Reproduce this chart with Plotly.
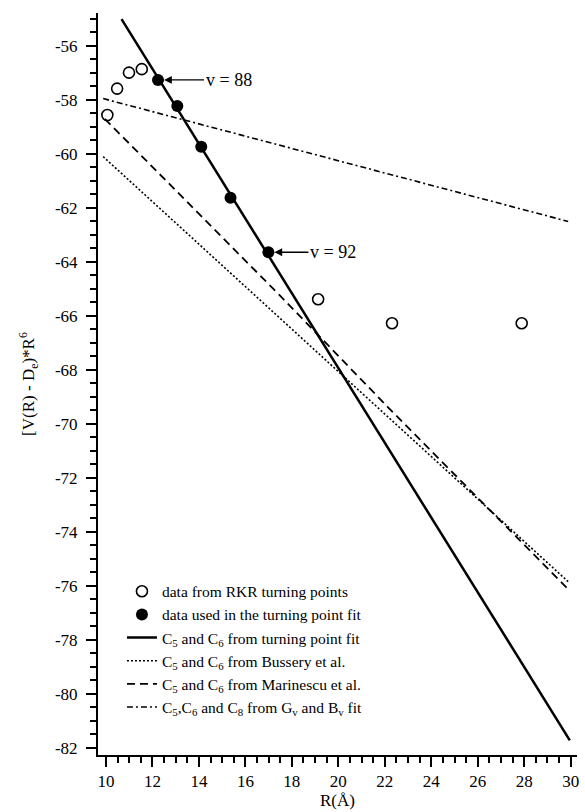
import plotly.graph_objects as go

# ---- data ----
rkr_R = [10.06, 10.48, 10.99, 11.54, 19.13, 22.31, 27.89]
rkr_V = [-58.56, -57.58, -56.99, -56.86, -65.38, -66.27, -66.27]

fit_R = [12.24, 13.07, 14.10, 15.36, 16.99]
fit_V = [-57.26, -58.22, -59.73, -61.62, -63.64]

tp_R = [10.67, 29.96]
tp_V = [-55.01, -81.72]

bus_R = [9.88, 17.46, 21.74, 29.89]
bus_V = [-60.10, -66.07, -69.41, -75.84]

mar_R = [9.95, 17.46, 22.17, 29.89]
mar_V = [-58.70, -65.22, -69.41, -76.12]

gb_R = [9.88, 22.17, 29.89]
gb_V = [-57.95, -60.74, -62.50]

x_ticks = list(range(10, 31, 2))
y_ticks = list(range(-82, -55, 2))
x_ticktext = [str(v) for v in x_ticks]
y_ticktext = ["-" + str(abs(v)) for v in y_ticks]

FONT = "Liberation Serif"

fig = go.Figure()

fig.add_trace(go.Scatter(x=tp_R, y=tp_V, mode="lines",
                         line=dict(color="black", width=2.5),
                         name="C<sub>5</sub> and C<sub>6</sub> from turning point fit",
                         legendrank=3))
fig.add_trace(go.Scatter(x=bus_R, y=bus_V, mode="lines",
                         line=dict(color="black", width=1.6, dash="2px,2px"),
                         name="C<sub>5</sub> and C<sub>6</sub> from Bussery et al.",
                         legendrank=4))
fig.add_trace(go.Scatter(x=mar_R, y=mar_V, mode="lines",
                         line=dict(color="black", width=1.8, dash="8px,5px"),
                         name="C<sub>5</sub> and C<sub>6</sub> from Marinescu et al.",
                         legendrank=5))
fig.add_trace(go.Scatter(x=gb_R, y=gb_V, mode="lines",
                         line=dict(color="black", width=1.6, dash="6px,3px,2px,3px"),
                         name="C<sub>5</sub>,C<sub>6</sub> and C<sub>8</sub> from G<sub>v</sub> and B<sub>v</sub> fit",
                         legendrank=6))
fig.add_trace(go.Scatter(x=rkr_R, y=rkr_V, mode="markers",
                         marker=dict(symbol="circle-open", size=11, color="black",
                                     line=dict(width=1.6, color="black")),
                         name="data from RKR turning points", legendrank=1))
fig.add_trace(go.Scatter(x=fit_R, y=fit_V, mode="markers",
                         marker=dict(symbol="circle", size=12, color="black"),
                         name="data used in the turning point fit", legendrank=2))

fig.add_annotation(x=fit_R[0], y=fit_V[0], ax=46, ay=0, text="v = 88",
                   xanchor="left", showarrow=True, arrowhead=2, arrowsize=1.2,
                   arrowwidth=1.3, arrowcolor="black", standoff=6,
                   font=dict(family=FONT, size=18, color="black"))
fig.add_annotation(x=fit_R[-1], y=fit_V[-1], ax=40, ay=0, text="v = 92",
                   xanchor="left", showarrow=True, arrowhead=2, arrowsize=1.2,
                   arrowwidth=1.3, arrowcolor="black", standoff=6,
                   font=dict(family=FONT, size=18, color="black"))

axis_common = dict(showline=True, linecolor="black", linewidth=2, showgrid=False,
                   zeroline=False, ticks="outside", tickcolor="black", tickwidth=2,
                   ticklen=10, tickmode="array",
                   tickfont=dict(family=FONT, size=17, color="black"))

fig.update_xaxes(range=[9.657, 30.27], tickvals=x_ticks, ticktext=x_ticktext,
                 minor=dict(dtick=0.5, tick0=10, ticks="outside", ticklen=6,
                            tickwidth=1.5, tickcolor="black", showgrid=False),
                 title=dict(text="R(Å)", font=dict(family=FONT, size=17, color="black"),
                            standoff=2),
                 **axis_common)
fig.update_yaxes(range=[-82.26, -54.78], tickvals=y_ticks, ticktext=y_ticktext,
                 minor=dict(dtick=0.5, tick0=-82, ticks="outside", ticklen=6,
                            tickwidth=1.5, tickcolor="black", showgrid=False),
                 title=dict(text="[V(R) - D<sub>e</sub>)*R<sup>6</sup>",
                            font=dict(family=FONT, size=17, color="black"), standoff=16),
                 ticklabelstandoff=5,
                 **axis_common)

fig.update_layout(
    width=585, height=812,
    margin=dict(l=98, r=6, t=13, b=57),
    plot_bgcolor="white", paper_bgcolor="white",
    font=dict(family=FONT, size=15.5, color="black"),
    showlegend=True,
    legend=dict(x=0.05, y=0.243, xanchor="left", yanchor="top",
                bgcolor="rgba(0,0,0,0)", font=dict(family=FONT, size=15.5, color="black"),
                itemwidth=30, tracegroupgap=0),
)

fig.write_html("out.html")
